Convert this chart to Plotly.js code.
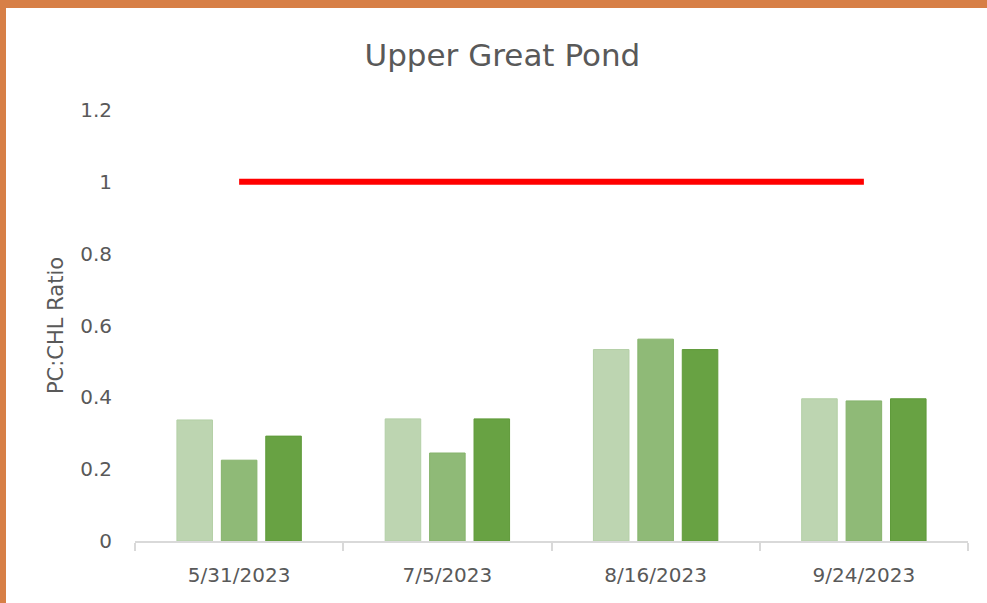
<!DOCTYPE html>
<html>
<head>
<meta charset="utf-8">
<script src="https://cdn.plot.ly/plotly-3.0.1.min.js"></script>
<style>
html,body{margin:0;padding:0;background:#fff;}
#wrap{width:987px;height:603px;box-sizing:border-box;border-top:8px solid #D77F46;border-left:6px solid #D77F46;overflow:hidden;}
#chart{width:981px;height:595px;}
</style>
</head>
<body>
<div id="wrap"><div id="chart"></div></div>
<script>
const categories = ["5/31/2023", "7/5/2023", "8/16/2023", "9/24/2023"];
const series1 = [0.337, 0.340, 0.533, 0.396];
const series2 = [0.225, 0.245, 0.562, 0.390];
const series3 = [0.292, 0.340, 0.533, 0.396];
const thresholdX = ["5/31/2023", "9/24/2023"];
const thresholdY = [1, 1];

const colors = ["#BDD5B1", "#8FBA77", "#68A243"];
const outline = ["#B3CFA6", "#86B36C", "#5F9A3A"];
const traces = [series1, series2, series3].map((v, i) => ({
  type: "bar",
  x: categories,
  y: v,
  marker: {color: colors[i], line: {color: outline[i], width: 1}},
  hoverinfo: "y",
  showlegend: false
}));
traces.push({
  type: "scatter",
  mode: "lines",
  x: thresholdX,
  y: thresholdY,
  line: {color: "#FF0000", width: 6},
  showlegend: false
});

const fam = "DejaVu Sans, sans-serif";
const layout = {
  width: 981, height: 595,
  margin: {l: 129, r: 19, t: 102, b: 62},
  paper_bgcolor: "#fff",
  plot_bgcolor: "#fff",
  font: {family: fam, color: "#595959", size: 20},
  title: {text: "Upper Great Pond", font: {family: fam, size: 31, color: "#595959"}, x: 0.506, xanchor: "center", y: 0.92, yanchor: "middle"},
  barmode: "group",
  bargap: 0.36,
  bargroupgap: 0.2,
  xaxis: {
    type: "category",
    showline: true, linecolor: "#D9D9D9", linewidth: 1.5,
    ticks: "outside", tickson: "boundaries", ticklen: 8, tickcolor: "#D9D9D9", tickwidth: 1.5,
    showgrid: false, zeroline: false,
    ticklabelstandoff: 15,
    tickfont: {family: fam, size: 20, color: "#595959"}
  },
  yaxis: {
    range: [0, 1.2],
    dtick: 0.2,
    showgrid: false, zeroline: false, showline: false,
    ticks: "",
    ticklabelstandoff: 22,
    tickfont: {family: fam, size: 20, color: "#595959"},
    title: {text: "PC:CHL Ratio", font: {family: fam, size: 21, color: "#595959"}, standoff: 10}
  }
};
Plotly.newPlot("chart", traces, layout, {displayModeBar: false});
</script>
</body>
</html>
